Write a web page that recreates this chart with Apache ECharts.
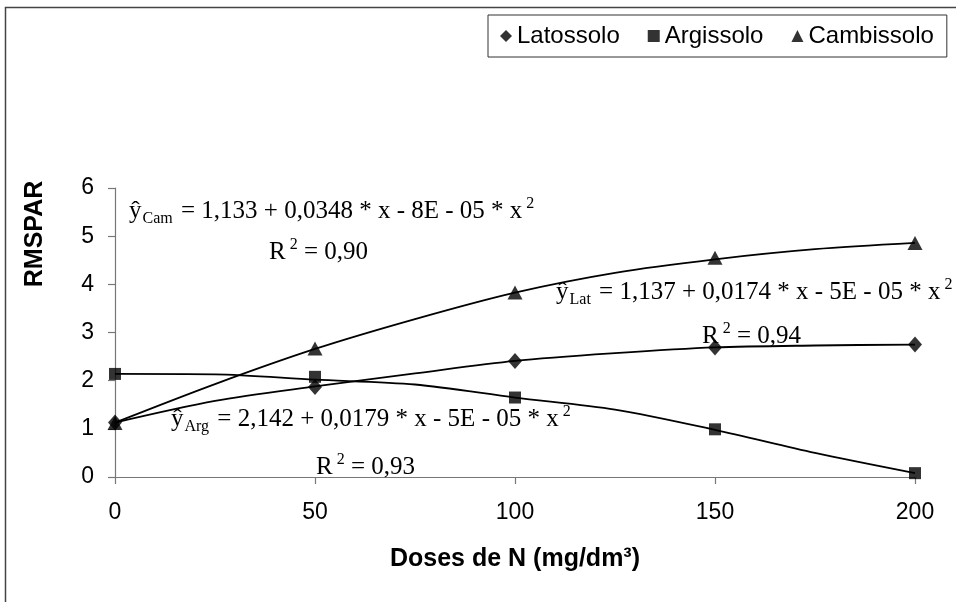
<!DOCTYPE html>
<html>
<head>
<meta charset="utf-8">
<script src="https://cdn.jsdelivr.net/npm/echarts@6/dist/echarts.min.js"></script>
<style>
  html, body { margin: 0; padding: 0; background: #fff; }
  #chart { width: 956px; height: 602px; }
</style>
</head>
<body>
<div id="chart"></div>
<script>
// Nitrogen doses (mg/dm³)
const doses = [0, 50, 100, 150, 200];
// Observed RMSPAR per soil
const latossolo = [1.13, 1.87, 2.41, 2.69, 2.75];
const argissolo = [2.14, 2.08, 1.65, 0.99, 0.08];
const cambissolo = [1.12, 2.67, 3.83, 4.55, 4.86];

// Fitted quadratic curves, sampled every 25 mg/dm³
const curveDoses = [0, 25, 50, 75, 100, 125, 150, 175, 200];
const latCurve = [1.13, 1.58, 1.88, 2.15, 2.41, 2.57, 2.69, 2.73, 2.75];
const argCurve = [2.14, 2.13, 2.02, 1.92, 1.65, 1.40, 0.98, 0.50, 0.08];
const camCurve = [1.13, 1.93, 2.66, 3.28, 3.83, 4.24, 4.52, 4.73, 4.86];

const yTicks = [0, 1, 2, 3, 4, 5, 6];
const xTicks = [0, 50, 100, 150, 200];

const pair = (xs, ys) => xs.map((x, i) => [x, ys[i]]);

const serif = 'Liberation Serif, Times New Roman, serif';
const sans = 'Liberation Sans, Arial, sans-serif';

const eqRich = {
  m: { fontFamily: serif, fontSize: 25, color: '#000' },
  sub: { fontFamily: serif, fontSize: 16, color: '#000', verticalAlign: 'bottom', padding: [0, 2, 0, 1] },
  sup: { fontFamily: serif, fontSize: 16, color: '#000', verticalAlign: 'top', padding: [0, 0, 0, 4] }
};

function equation(x, y, text) {
  return {
    type: 'text', left: x, top: y, silent: true, z: 10,
    style: { text: text, rich: eqRich, fontFamily: serif, fontSize: 25, fill: '#000', lineHeight: 31 }
  };
}

const chart = echarts.init(document.getElementById('chart'), null, { renderer: 'canvas' });

const lineStyle = { color: '#000', width: 1.8 };

chart.setOption({
  animation: false,
  backgroundColor: '#fff',
  grid: { left: 115, right: 41, top: 188, bottom: 125, containLabel: false },
  legend: {
    left: 488, top: 15,
    data: ['Latossolo', 'Argissolo', 'Cambissolo'],
    itemWidth: 12, itemHeight: 12, itemGap: 28,
    padding: [9, 13, 9, 12],
    borderColor: '#333', borderWidth: 1,
    textStyle: { fontFamily: sans, fontSize: 24, color: '#000' }
  },
  xAxis: {
    type: 'value', min: 0, max: 200, interval: 50,
    name: 'Doses de N (mg/dm³)', nameLocation: 'middle', nameGap: 70,
    nameTextStyle: { fontFamily: sans, fontSize: 25, fontWeight: 'bold', color: '#000' },
    axisLine: { lineStyle: { color: '#777', width: 1.2 } },
    axisTick: { show: true, length: 7, lineStyle: { color: '#777', width: 1.2 } },
    axisLabel: { margin: 24, fontFamily: sans, fontSize: 23, color: '#000',
      formatter: v => xTicks.includes(v) ? String(v) : '' },
    splitLine: { show: false }
  },
  yAxis: {
    type: 'value', min: 0, max: 6, interval: 1,
    axisLine: { show: true, lineStyle: { color: '#777', width: 1.2 } },
    axisTick: { show: true, length: 7, lineStyle: { color: '#777', width: 1.2 } },
    axisLabel: { margin: 21, fontFamily: sans, fontSize: 23, color: '#000',
      formatter: v => yTicks.includes(v) ? String(v) : '' },
    splitLine: { show: false }
  },
  graphic: [
    {
      type: 'rect', silent: true, z: -1,
      shape: { x: 5.5, y: 7.5, width: 1000, height: 700 },
      style: { fill: 'none', stroke: '#444', lineWidth: 1.5 }
    },
    {
      type: 'text', silent: true,
      x: 35, y: 234, rotation: Math.PI / 2,
      style: { text: 'RMSPAR', fontFamily: sans, fontSize: 25, fontWeight: 'bold', fill: '#000',
        align: 'center', verticalAlign: 'middle' }
    },
    equation(129, 196, '{m|ŷ}{sub|Cam}{m| = 1,133 + 0,0348 * x - 8E - 05 * x}{sup|2}'),
    equation(269, 237, '{m|R}{sup|2}{m| = 0,90}'),
    equation(556, 277, '{m|ŷ}{sub|Lat}{m| = 1,137 + 0,0174 * x - 5E - 05 * x}{sup|2}'),
    equation(702, 321, '{m|R}{sup|2}{m| = 0,94}'),
    equation(171, 404, '{m|ŷ}{sub|Arg}{m| = 2,142 + 0,0179 * x - 5E - 05 * x}{sup|2}'),
    equation(316, 452, '{m|R}{sup|2}{m| = 0,93}')
  ],
  series: [
    { type: 'line', data: pair(curveDoses, latCurve), smooth: 0.3, showSymbol: false, silent: true, lineStyle: lineStyle, z: 2 },
    { type: 'line', data: pair(curveDoses, argCurve), smooth: 0.3, showSymbol: false, silent: true, lineStyle: lineStyle, z: 2 },
    { type: 'line', data: pair(curveDoses, camCurve), smooth: 0.3, showSymbol: false, silent: true, lineStyle: lineStyle, z: 2 },
    { name: 'Latossolo', type: 'scatter', data: pair(doses, latossolo), symbol: 'diamond', symbolSize: [14, 16], itemStyle: { color: '#000' }, z: 3 },
    { name: 'Argissolo', type: 'scatter', data: pair(doses, argissolo), symbol: 'rect', symbolSize: 12, itemStyle: { color: '#000' }, z: 3 },
    { name: 'Cambissolo', type: 'scatter', data: pair(doses, cambissolo), symbol: 'triangle', symbolSize: [15, 14], itemStyle: { color: '#000' }, z: 3 }
  ]
});
</script>
</body>
</html>
